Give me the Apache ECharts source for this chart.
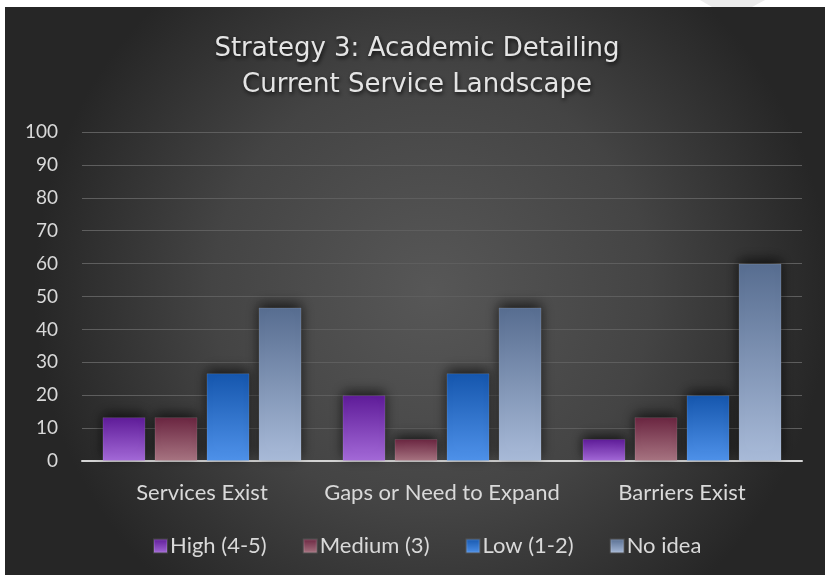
<!DOCTYPE html>
<html>
<head>
<meta charset="utf-8">
<script src="https://cdn.jsdelivr.net/npm/echarts@6/dist/echarts.min.js"></script>
<style>html,body{margin:0;padding:0;background:#fff;}#c{width:825px;height:579px;}</style>
</head>
<body>
<div id="c"></div>
<script>
var categories = ['Services Exist', 'Gaps or Need to Expand', 'Barriers Exist'];
var seriesNames = ['High (4-5)', 'Medium (3)', 'Low (1-2)', 'No idea'];
var highValues = [13.33, 20, 6.67];
var mediumValues = [13.33, 6.67, 13.33];
var lowValues = [26.67, 26.67, 20];
var noIdeaValues = [46.67, 46.67, 60];
var titleLines = ['Strategy 3: Academic Detailing', 'Current Service Landscape'];

var topColors = ['#5e1b98', '#6a2540', '#1556ad', '#576d90'];
var bottomColors = ['#a46ad8', '#a87582', '#4f92ea', '#a9bbd9'];
var valueSets = [highValues, mediumValues, lowValues, noIdeaValues];

function grad(i) {
  return new echarts.graphic.LinearGradient(0, 0, 0, 1, [
    {offset: 0, color: topColors[i]},
    {offset: 1, color: bottomColors[i]}
  ]);
}

var chart = echarts.init(document.getElementById('c'), null, {renderer: 'canvas'});
var font = 'Lato, "Open Sans", sans-serif';
var option = {
  backgroundColor: '#ffffff',
  animation: false,
  graphic: [
    {type: 'rect', z: -10, silent: true, shape: {x: 5, y: 7, width: 820, height: 568},
      style: {fill: new echarts.graphic.RadialGradient(0.52, 0.5, 0.7, [
        {offset: 0, color: '#575757'},
        {offset: 0.55, color: '#444444'},
        {offset: 1, color: '#262626'}
      ])}},
    {type: 'polygon', z: -9, silent: true, shape: {points: [[700,0],[765,0],[752,7],[712,7]]},
      style: {fill: '#ececec'}},
    {type: 'text', x: 417, y: 31, z: 10,
      style: {text: titleLines.join('\n'), font: '400 26px "DejaVu Sans", sans-serif',
        fill: '#e4e4e4', lineHeight: 36, align: 'center', textAlign: 'center',
        textShadowColor: 'rgba(0,0,0,0.8)', textShadowBlur: 4, textShadowOffsetX: 1, textShadowOffsetY: 2}}
  ],
  grid: {left: 82, right: 23, top: 132, bottom: 118, containLabel: false},
  legend: {
    data: seriesNames,
    bottom: 17,
    left: 148,
    itemWidth: 13,
    itemHeight: 13,
    itemGap: 36,
    icon: 'rect',
    textStyle: {color: '#d9d9d9', fontSize: 22, fontFamily: font, padding: [0,0,0,-2]}
  },
  xAxis: {
    type: 'category',
    data: categories,
    axisTick: {show: false},
    axisLine: {lineStyle: {color: '#d4d4d4', width: 2}},
    axisLabel: {color: '#d9d9d9', fontSize: 22, fontFamily: font, margin: 21, interval: 0}
  },
  yAxis: {
    type: 'value',
    min: 0, max: 100, interval: 10,
    axisLine: {show: false},
    axisTick: {show: false},
    axisLabel: {color: '#d9d9d9', fontSize: 19, fontFamily: font, margin: 24},
    splitLine: {lineStyle: {color: '#5e5e5e', width: 1}}
  },
  series: seriesNames.map(function (n, i) {
    return {
      name: n,
      type: 'bar',
      data: valueSets[i],
      barWidth: 43,
      barGap: '21%',
      itemStyle: {
        color: grad(i),
        borderColor: 'rgba(255,255,255,0.12)',
        borderWidth: 1,
        shadowColor: 'rgba(0,0,0,0.65)',
        shadowBlur: 12,
        shadowOffsetY: -4
      }
    };
  })
};
chart.setOption(option);
</script>
</body>
</html>
